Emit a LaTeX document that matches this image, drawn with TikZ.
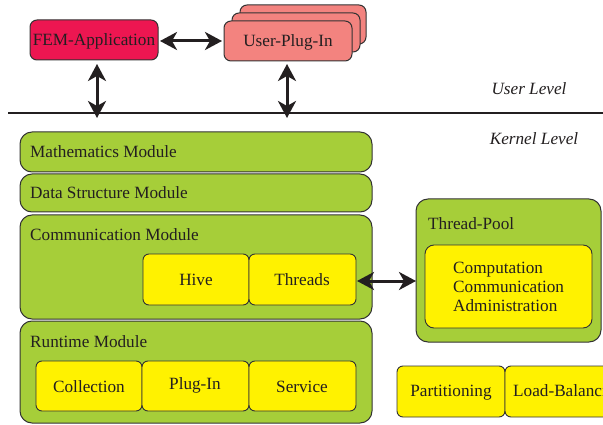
\documentclass[tikz,border=0pt]{standalone}
\usepackage{fontspec}
\setmainfont{Liberation Serif}
\usetikzlibrary{arrows.meta}
\definecolor{modgreen}{HTML}{A6CE39}
\definecolor{boxyellow}{HTML}{FFF200}
\definecolor{femred}{HTML}{ED1651}
\definecolor{plugsalmon}{HTML}{F3837F}
\definecolor{edgegray}{HTML}{333333}
\definecolor{inkgray}{HTML}{231F20}
\tikzset{
  every node/.style={font=\fontsize{17.2}{19.5}\selectfont, text=inkgray},
  lbl/.style={inner sep=0pt, text height=12pt, text depth=1.5pt},
  module/.style={draw=edgegray, line width=1pt, fill=modgreen, rounded corners=12pt},
  ybox/.style={draw=edgegray, line width=0.9pt, fill=boxyellow, rounded corners=6pt},
  ubox/.style={draw=edgegray, line width=1pt, rounded corners=7pt},
  link/.style={line width=3pt, inkgray,
    {Stealth[length=17pt,width=18pt,inset=5pt]}-{Stealth[length=17pt,width=18pt,inset=5pt]}},
}
\begin{document}
\begin{tikzpicture}[x=1pt,y=-1pt]
\useasboundingbox (0,0) rectangle (603,425);
\clip (0,0) rectangle (603,425);
\fill[white] (0,0) rectangle (603,425);

% user level boxes
\draw[ubox, fill=femred] (30,20) rectangle (158,60);
\node[lbl] (fem) at (94,40) {FEM-Application};
\coordinate (femE) at (160,41);
\coordinate (femS) at (97,64);
\draw[ubox, fill=plugsalmon] (240,5) rectangle (366,44);
\draw[ubox, fill=plugsalmon] (232,13) rectangle (360,52);
\draw[ubox, fill=plugsalmon] (224,21) rectangle (352,61);
\node[lbl] (plug) at (288,41) {User-Plug-In};
\coordinate (plugW) at (222,41);
\coordinate (plugS) at (287,64);

% level separator
\draw[line width=2.8pt, inkgray] (8,113) -- (603,113);
\coordinate (femK) at (97,118);
\coordinate (plugK) at (287,118);
\node[lbl, font=\fontsize{17.2}{19.5}\selectfont\itshape] (ul) at (529,89) {User Level};
\node[lbl, font=\fontsize{17.2}{19.5}\selectfont\itshape] (kl) at (534,139) {Kernel Level};

% kernel modules
\draw[module] (20,132) rectangle (372,172);
\node[lbl, anchor=west] (math) at (30,152) {Mathematics Module};
\draw[module] (20,174) rectangle (372,212);
\node[lbl, anchor=west] (data) at (30,193) {Data Structure Module};
\draw[module] (20,215) rectangle (372,319);
\node[lbl, anchor=west] (comm) at (30,235) {Communication Module};
\draw[ybox] (143,254) rectangle (249,305);
\node[lbl] (hive) at (196,280) {Hive};
\draw[ybox] (249,254) rectangle (356,305);
\node[lbl] (threads) at (302,280) {Threads};
\coordinate (threadsE) at (357,281);
\draw[module] (20,321) rectangle (372,423);
\node[lbl, anchor=west] (run) at (30,342) {Runtime Module};
\draw[ybox] (36,361) rectangle (142,411);
\node[lbl] (coll) at (89,387) {Collection};
\draw[ybox] (142,361) rectangle (249,411);
\node[lbl] (plugin) at (195,384) {Plug-In};
\draw[ybox] (249,361) rectangle (356,411);
\node[lbl] (serv) at (302,387) {Service};

% thread pool
\draw[module] (416,199) rectangle (601,342);
\coordinate (poolW) at (416,281);
\node[lbl, anchor=west] (pool) at (428,224) {Thread-Pool};
\draw[ybox, rounded corners=9pt] (425,245) rectangle (592,328);
\node[lbl, anchor=west] (t1) at (453,268) {Computation};
\node[lbl, anchor=west] (t2) at (453,287) {Communication};
\node[lbl, anchor=west] (t3) at (453,306) {Administration};

% partitioning and load balancing (runs past the right edge)
\draw[ybox] (397,366) rectangle (505,417);
\node[lbl] (part) at (451,391) {Partitioning};
\draw[ybox] (505,366) rectangle (615,417);
\node[lbl, anchor=west] (lb) at (513,391) {Load-Balancing};

% connectors
\draw[link] (femE) -- (plugW);
\draw[link] (femS) -- (femK);
\draw[link] (plugS) -- (plugK);
\draw[link] (threadsE) -- (poolW);
\end{tikzpicture}
\end{document}
